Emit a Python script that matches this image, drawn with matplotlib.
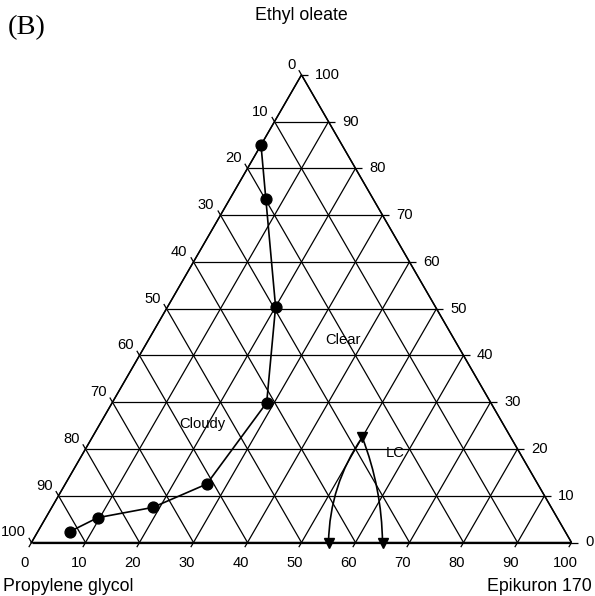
import numpy as np
import matplotlib
matplotlib.use("Agg")
import matplotlib.pyplot as plt

# ---------------- data (ternary compositions, %) ----------------
# Phase boundary (circles): Epikuron 170 / Ethyl oleate / Propylene glycol
boundary_epikuron = [0.0, 6.7, 20.0, 28.6, 26.2, 18.7, 9.6, 5.9]
boundary_oleate = [85.0, 73.4, 50.4, 29.9, 12.5, 7.5, 5.3, 2.3]
boundary_pg = [15.0, 19.9, 29.6, 41.5, 61.3, 73.8, 85.1, 91.8]

# Liquid-crystal region (triangles)
lc_epikuron = [55.0, 50.0, 65.0]
lc_oleate = [0.0, 22.5, 0.0]
lc_pg = [45.0, 27.5, 35.0]

tick_values = [0, 10, 20, 30, 40, 50, 60, 70, 80, 90, 100]
vertex_titles = ["Ethyl oleate", "Propylene glycol", "Epikuron 170"]
region_labels = ["Clear", "Cloudy", "LC"]
region_epikuron = [36.0, 18.9, 57.8]
region_oleate = [43.2, 25.3, 19.1]

S3 = np.sqrt(3) / 2


def tern(e, o):
    e = np.asarray(e, float)
    o = np.asarray(o, float)
    return e + o / 2.0, o * S3


# ---------------- figure ----------------
W, H = 595, 596
fig = plt.figure(figsize=(W / 100, H / 100), dpi=100)
ax = fig.add_axes([0, 0, 1, 1])
ox, oy, sc = 31.5, 542.5, 5.4   # pixel position of the PG vertex and pixels per unit
ax.set_xlim(-ox / sc, (W - ox) / sc)
ax.set_ylim((oy - H) / sc, oy / sc)
ax.axis("off")

plt.rcParams["font.family"] = ["Liberation Sans", "DejaVu Sans"]
tick_fs = 10.6
title_fs = 12.8
grid_kw = dict(color="black", lw=0.9, solid_capstyle="butt")
tl = 1.0  # tick length in data units

# border
bx, by = tern([0, 100, 0, 0], [0, 0, 100, 0])
ax.plot(bx, by, color="black", lw=1.1, solid_joinstyle="miter")

for k in tick_values:
    # constant Ethyl oleate (horizontal), ticks to the right
    x0, y0 = tern(0, k)
    x1, y1 = tern(100 - k, k)
    ax.plot([x0, x1 + tl * 1.2], [y0, y1], **grid_kw)
    ax.annotate(str(k), (x1, y1), xytext=(13.5, 0), textcoords="offset pixels",
                ha="left", va="center", fontsize=tick_fs)
    # constant Propylene glycol (parallel to right edge), ticks up-left
    x0, y0 = tern(0, 100 - k)
    x1, y1 = tern(100 - k, 0)
    ax.plot([x0 - 0.5 * tl, x1], [y0 + S3 * tl, y1], **grid_kw)
    ax.annotate(str(k), (x0, y0), xytext=(-6, 10), textcoords="offset pixels",
                ha="right", va="center", fontsize=tick_fs)
    # constant Epikuron (parallel to left edge), ticks down-left
    x0, y0 = tern(k, 0)
    x1, y1 = tern(k, 100 - k)
    ax.plot([x0 - 0.5 * tl, x1], [y0 - S3 * tl, y1], **grid_kw)
    ax.annotate(str(k), (x0, y0), xytext=(-6.5, -20.5), textcoords="offset pixels",
                ha="center", va="center", fontsize=tick_fs)

# boundary line with circles
cx, cy = tern(boundary_epikuron, boundary_oleate)
ax.plot(cx, cy, color="black", lw=1.2, marker="o", ms=7.8, mfc="black", mec="black", zorder=5)

# LC region curves and triangles
lx, ly = tern(lc_epikuron, lc_oleate)
ax.annotate("", xy=(lx[0], ly[0]), xytext=(lx[1], ly[1]),
            arrowprops=dict(arrowstyle="-", connectionstyle="arc3,rad=0.15",
                            lw=1.2, color="black", shrinkA=0, shrinkB=0))
ax.annotate("", xy=(lx[2], ly[2]), xytext=(lx[1], ly[1]),
            arrowprops=dict(arrowstyle="-", connectionstyle="arc3,rad=-0.09",
                            lw=1.2, color="black", shrinkA=0, shrinkB=0))
ax.plot(lx, ly, ls="none", marker="v", ms=7, color="black", zorder=6)

# region labels
rx, ry = tern(region_epikuron, region_oleate)
for t, x, y in zip(region_labels, rx, ry):
    ax.text(x, y, t, ha="center", va="center", fontsize=tick_fs)

# vertex titles (pixel positions)
def px(p, q):
    return (p - ox) / sc, (oy - q) / sc

ax.text(*px(301.5, 20), vertex_titles[0], ha="center", va="baseline", fontsize=title_fs)
ax.text(*px(3, 591), vertex_titles[1], ha="left", va="baseline", fontsize=title_fs)
ax.text(*px(591.5, 591), vertex_titles[2], ha="right", va="baseline", fontsize=title_fs)
ax.text(*px(8, 34.5), "(B)", ha="left", va="baseline", fontsize=20.5,
        family=["Liberation Serif", "DejaVu Serif"])

fig.savefig("out.png", dpi=100)
